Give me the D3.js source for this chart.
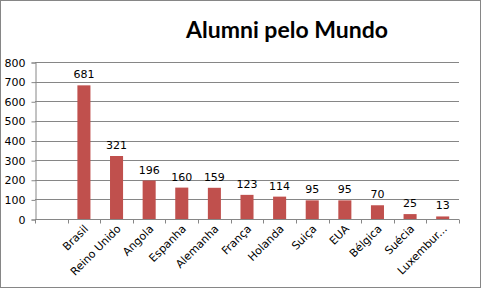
<!DOCTYPE html>
<html>
<head>
<meta charset="utf-8">
<script src="https://cdn.jsdelivr.net/npm/d3@7"></script>
<style>
body { margin: 0; background: #fff; }
</style>
</head>
<body>
<div id="container"></div>
<script>
/* CONSTANTS AND GLOBALS */
const width = 482, height = 289,
  margin = { top: 62, left: 35, bottom: 70, right: 23 };

// DATA (first category is empty in the original sheet)
const countries = ["", "Brasil", "Reino Unido", "Angola", "Espanha", "Alemanha", "França", "Holanda", "Suiça", "EUA", "Bélgica", "Suécia", "Luxembur..."];
const alumni = [null, 681, 321, 196, 160, 159, 123, 114, 95, 95, 70, 25, 13];
const yTicks = [0, 100, 200, 300, 400, 500, 600, 700, 800];

const data = countries.map((c, i) => ({ country: c, value: alumni[i], key: i }));

// SCALES
const xScale = d3.scaleBand()
  .domain(data.map(d => d.key))
  .range([margin.left, width - margin.right])
  .paddingInner(0.6)
  .paddingOuter(0.3);

const yScale = d3.scaleLinear()
  .domain([0, 800])
  .range([height - margin.bottom, margin.top]);

// CREATE SVG ELEMENT
const svg = d3.select("#container")
  .append("svg")
  .attr("width", width)
  .attr("height", height)
  .style("font-family", "'DejaVu Sans', sans-serif");

// outer border
svg.append("rect")
  .attr("x", 0.5).attr("y", 0.5)
  .attr("width", width - 2).attr("height", height - 2)
  .attr("fill", "#fff")
  .attr("stroke", "#868686");

// GRIDLINES
svg.append("g")
  .selectAll("line")
  .data(yTicks.filter(t => t > 0))
  .join("line")
  .attr("x1", margin.left).attr("x2", width - margin.right)
  .attr("y1", d => Math.round(yScale(d)) + 0.5)
  .attr("y2", d => Math.round(yScale(d)) + 0.5)
  .attr("stroke", "#868686");

// Y AXIS
const yAxis = d3.axisLeft(yScale).tickValues(yTicks).tickSize(4).tickPadding(6);
svg.append("g")
  .attr("transform", `translate(${margin.left + 0.5},0.5)`)
  .call(yAxis)
  .call(g => g.selectAll("line, path").attr("stroke", "#868686"))
  .call(g => g.selectAll("text").style("font-size", "11px").style("font-family", "'DejaVu Sans', sans-serif").attr("fill", "#000"));

// X AXIS (ticks at category boundaries)
const step = (width - margin.right - margin.left) / data.length;
const bounds = d3.range(data.length + 1).map(i => margin.left + i * step);
const y0 = Math.round(yScale(0)) + 0.5;
svg.append("line")
  .attr("x1", margin.left).attr("x2", width - margin.right)
  .attr("y1", y0).attr("y2", y0)
  .attr("stroke", "#868686");
svg.append("g")
  .selectAll("line")
  .data(bounds)
  .join("line")
  .attr("x1", d => Math.round(d) + 0.5).attr("x2", d => Math.round(d) + 0.5)
  .attr("y1", y0).attr("y2", y0 + 4)
  .attr("stroke", "#868686");

// BARS
const bars = data.filter(d => d.value != null);
svg.selectAll(".bar")
  .data(bars)
  .join("rect")
  .attr("class", "bar")
  .attr("x", d => xScale(d.key))
  .attr("width", xScale.bandwidth())
  .attr("y", d => yScale(d.value))
  .attr("height", d => yScale(0) - yScale(d.value))
  .attr("fill", "#C0504D");

// VALUE LABELS
svg.selectAll(".val")
  .data(bars)
  .join("text")
  .attr("class", "val")
  .attr("x", d => xScale(d.key) + xScale.bandwidth() / 2)
  .attr("y", d => yScale(d.value) - 7)
  .attr("text-anchor", "middle")
  .style("font-size", "11px")
  .text(d => d.value);

// CATEGORY LABELS (rotated)
svg.selectAll(".cat")
  .data(bars)
  .join("text")
  .attr("class", "cat")
  .attr("text-anchor", "end")
  .attr("transform", d => `translate(${xScale(d.key) + xScale.bandwidth() / 2 + 5},${y0 + 10}) rotate(-45)`)
  .style("font-size", "11px")
  .text(d => d.country);

// TITLE
svg.append("text")
  .attr("x", 287)
  .attr("y", 38)
  .attr("text-anchor", "middle")
  .style("font-family", "Lato, 'Open Sans', sans-serif")
  .style("font-size", "23px")
  .style("font-weight", "bold")
  .text("Alumni pelo Mundo");
</script>
</body>
</html>
